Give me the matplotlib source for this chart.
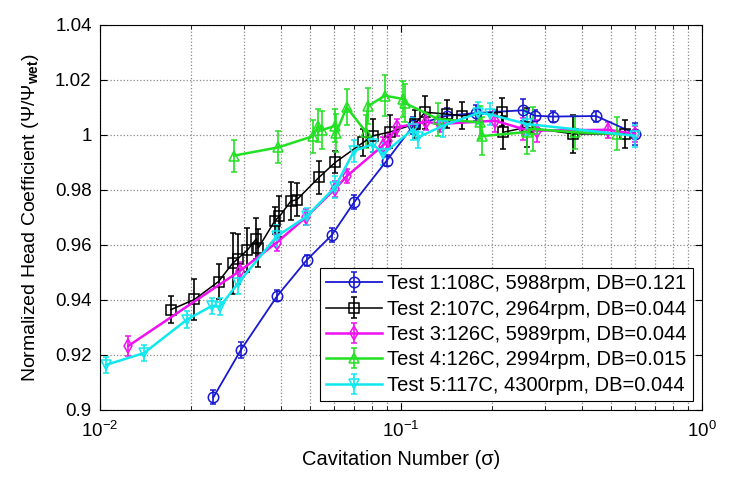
import numpy as np
import matplotlib
matplotlib.use("Agg")
import matplotlib.pyplot as plt
from matplotlib.ticker import FuncFormatter, LogLocator, FixedLocator

plt.rcParams['font.family'] = ['Liberation Sans', 'DejaVu Sans']
plt.rcParams['mathtext.fontset'] = 'custom'
plt.rcParams['mathtext.rm'] = 'Liberation Sans'
plt.rcParams['mathtext.it'] = 'Liberation Sans:italic'
plt.rcParams['mathtext.bf'] = 'Liberation Sans:bold'
plt.rcParams['mathtext.sf'] = 'Liberation Sans'

# ---------------- data ----------------
t1_x = [0.0238, 0.0294, 0.0388, 0.0486, 0.0589, 0.0698, 0.0897, 0.110, 0.142, 0.178, 0.255, 0.279, 0.319, 0.445, 0.600]
t1_y = [0.9046, 0.9219, 0.9415, 0.9545, 0.9636, 0.9755, 0.9907, 1.0035, 1.0070, 1.0080, 1.0090, 1.0070, 1.0067, 1.0069, 1.0005]
t1_e = [0.0025, 0.003, 0.002, 0.002, 0.0025, 0.0025, 0.002, 0.003, 0.003, 0.003, 0.004, 0.002, 0.002, 0.002, 0.004]

t2_x = [0.01722, 0.0206, 0.02476, 0.02756, 0.02863, 0.0309, 0.0331, 0.03357, 0.03814, 0.03946, 0.0431, 0.04502,
        0.05352, 0.06058, 0.0749, 0.0807, 0.0919, 0.1113, 0.1202, 0.1418, 0.1591, 0.2161, 0.2188, 0.2616, 0.3736, 0.5548]
t2_y = [0.9365, 0.9402, 0.9467, 0.9533, 0.9549, 0.9582, 0.9623, 0.9589, 0.9689, 0.9704, 0.9760, 0.9764,
        0.9847, 0.9901, 0.9973, 0.9997, 1.0011, 1.0040, 1.0083, 1.0076, 1.0070, 1.0083, 1.0010, 1.0028, 1.0004, 1.0004]
t2_e = [0.005, 0.0075, 0.0065, 0.011, 0.009, 0.008, 0.0075, 0.007, 0.005, 0.0075, 0.007, 0.006,
        0.006, 0.004, 0.005, 0.006, 0.006, 0.005, 0.006, 0.005, 0.005, 0.005, 0.006, 0.007, 0.007, 0.005]

t3_x = [0.01242, 0.02927, 0.03864, 0.04836, 0.06035, 0.0660, 0.08693, 0.09055, 0.09676, 0.1211, 0.1348,
        0.2053, 0.2548, 0.2822, 0.4884, 0.599]
t3_y = [0.9233, 0.9507, 0.9609, 0.9701, 0.9804, 0.9850, 0.9961, 0.9979, 1.0028, 1.0048, 1.0040,
        1.0052, 1.0022, 1.0016, 1.0019, 1.0004]
t3_e = [0.0035, 0.003, 0.003, 0.003, 0.003, 0.0025, 0.003, 0.003, 0.003, 0.003, 0.003,
        0.004, 0.004, 0.004, 0.003, 0.003]

t4_x = [0.02787, 0.03911, 0.05111, 0.05299, 0.05464, 0.06035, 0.06081, 0.0660, 0.07646, 0.07766, 0.08845,
        0.1015, 0.1031, 0.1327, 0.1830, 0.1858, 0.2622, 0.2745, 0.3785, 0.5220]
t4_y = [0.9925, 0.9955, 0.9996, 1.0033, 1.0018, 1.0033, 1.0007, 1.0101, 1.0011, 1.0105, 1.0143,
        1.0131, 1.0116, 1.0058, 1.0046, 0.9996, 1.0011, 1.0022, 1.0010, 1.0004]
t4_e = [0.0058, 0.0058, 0.006, 0.006, 0.007, 0.006, 0.007, 0.0065, 0.006, 0.0065, 0.0075,
        0.0065, 0.007, 0.006, 0.006, 0.007, 0.008, 0.008, 0.006, 0.006]

t5_x = [0.01047, 0.0140, 0.01946, 0.0235, 0.02505, 0.0288, 0.03861, 0.04859, 0.06035, 0.06982, 0.08072,
        0.08713, 0.1099, 0.1142, 0.1382, 0.1806, 0.1975, 0.2614, 0.599]
t5_y = [0.9164, 0.9207, 0.9329, 0.9378, 0.9376, 0.9462, 0.9631, 0.9704, 0.9810, 0.9942, 0.9967,
        0.9931, 1.0022, 0.9992, 1.0034, 1.0080, 1.0075, 1.0040, 0.9997]
t5_e = [0.003, 0.003, 0.003, 0.003, 0.003, 0.004, 0.004, 0.003, 0.004, 0.004, 0.003,
        0.004, 0.004, 0.004, 0.004, 0.004, 0.004, 0.004, 0.004]

labels = ["Test 1:108C, 5988rpm, DB=0.121",
          "Test 2:107C, 2964rpm, DB=0.044",
          "Test 3:126C, 5989rpm, DB=0.044",
          "Test 4:126C, 2994rpm, DB=0.015",
          "Test 5:117C, 4300rpm, DB=0.044"]

y_ticks = [0.9, 0.92, 0.94, 0.96, 0.98, 1.0, 1.02, 1.04]

# ---------------- plot ----------------
fig = plt.figure(figsize=(7.33, 4.84), dpi=100)
ax = fig.add_axes([100/733, 1-410/484, 602/733, 385/484])

series = [
    (t1_x, t1_y, t1_e, '#1818d0', 'o', 1.3, 7.5),
    (t2_x, t2_y, t2_e, '#000000', 's', 1.1, 7.5),
    (t3_x, t3_y, t3_e, '#f010f0', 'd', 1.8, 7.5),
    (t4_x, t4_y, t4_e, '#22e022', '^', 1.8, 7.5),
    (t5_x, t5_y, t5_e, '#10e8ee', 'v', 1.8, 7.5),
]
for (x, y, e, c, m, lw, ms), lab in zip(series, labels):
    ax.errorbar(x, y, yerr=e, color=c, marker=m, mfc='none', mec=c, ms=ms,
                lw=lw, elinewidth=1.2, capsize=2, capthick=1.0, label=lab, mew=1.1)

ax.set_xscale('log')
ax.set_xlim(0.01, 1.0)
ax.set_ylim(0.9, 1.04)
ax.yaxis.set_major_locator(FixedLocator(y_ticks))
ax.yaxis.set_major_formatter(FuncFormatter(lambda v, p: '%g' % round(v, 4)))
ax.xaxis.set_major_locator(LogLocator(base=10, numticks=5))
ax.xaxis.set_minor_locator(LogLocator(base=10, subs=np.arange(2, 10), numticks=20))

ax.grid(True, which='major', linestyle=':', color='#888888', lw=0.9)
ax.grid(True, which='minor', axis='x', linestyle=':', color='#888888', lw=0.9)
ax.tick_params(which='both', direction='in', top=True, right=True, labelsize=13.5)
ax.tick_params(which='major', length=5)
ax.tick_params(which='minor', length=3)
ax.tick_params(axis='x', which='major', pad=8)
ax.tick_params(axis='y', which='major', pad=6)
for s in ax.spines.values():
    s.set_linewidth(0.8)

ax.set_xlabel('Cavitation Number (σ)', fontsize=14.5, labelpad=6)
ax.set_ylabel('Normalized Head Coefficient (Ψ/Ψ$_{\\mathbf{wet}}$)', fontsize=14, labelpad=10)

leg = ax.legend(loc='lower right', fontsize=14.5, frameon=True, fancybox=False,
                edgecolor='black', framealpha=1, handlelength=2.8, handletextpad=0.25,
                labelspacing=0.32, borderpad=0.3, borderaxespad=0.45)
leg.get_frame().set_linewidth(0.8)

fig.savefig('out.png', dpi=100)
